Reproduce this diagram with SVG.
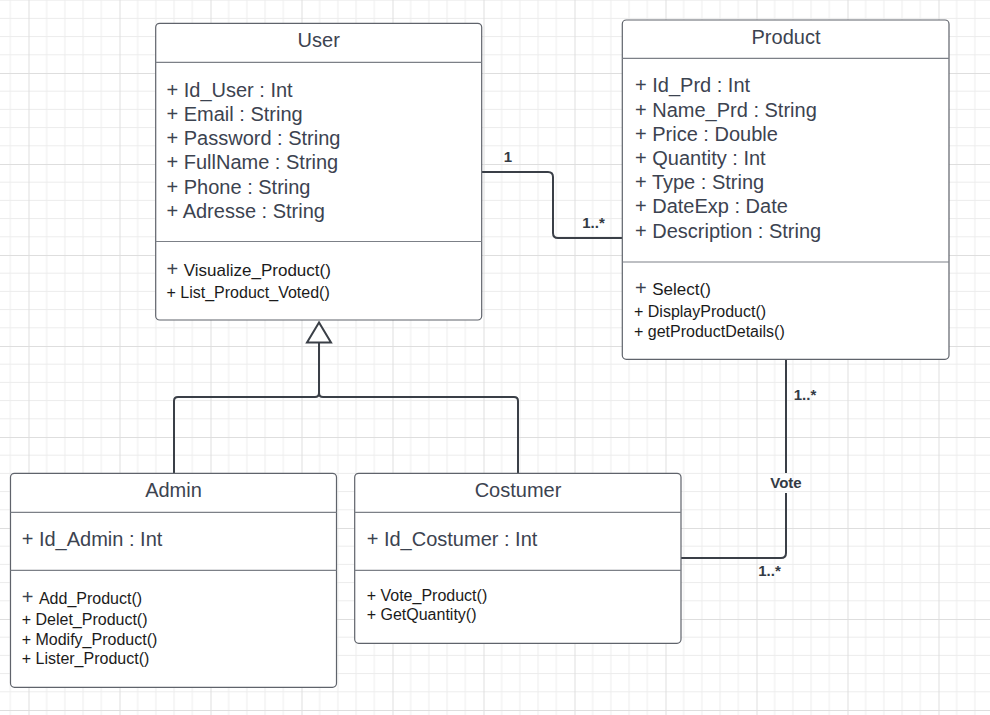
<svg xmlns="http://www.w3.org/2000/svg" width="990" height="715" viewBox="0 0 990 715">
<defs>
<pattern id="grid" x="28.5" y="73" width="91" height="91" patternUnits="userSpaceOnUse">
<path d="M18.2,0V91M36.4,0V91M54.6,0V91M72.8,0V91M0,18.2H91M0,36.4H91M0,54.6H91M0,72.8H91" stroke="#ececec" stroke-width="1" fill="none"/>
<path d="M0.5,0V91M0,0.5H91" stroke="#dedede" stroke-width="1" fill="none"/>
</pattern>
</defs>
<style>
.box{fill:#fff;stroke:#5f636b;stroke-width:1.2}
.div{stroke:#7c8087;stroke-width:1.2}
.title{font-family:"Liberation Sans",Arial,sans-serif;font-size:20px;fill:#3c4350;text-anchor:middle}
.attr{font-family:"Liberation Sans",Arial,sans-serif;font-size:20px;fill:#3c4350}
.m{font-family:"Liberation Sans",Arial,sans-serif;font-size:16px;fill:#1b1b1b}
.p{font-size:20px;fill:#3c4350}
.conn{fill:none;stroke:#3a3f47;stroke-width:2}
.lbl{font-family:"Liberation Sans",Arial,sans-serif;font-size:15px;font-weight:bold;fill:#333a44;text-anchor:middle}
</style>
<rect width="990" height="715" fill="#fff"/>
<rect width="990" height="715" fill="url(#grid)"/>

<g id="connectors">
<path class="conn" d="M482,172H548Q553,172 553,177V233Q553,238 558,238H622"/>
<path class="conn" d="M319,342V393Q319,397 315,397H178Q174,397 174,401V473"/>
<path class="conn" d="M319,342V393Q319,397 323,397H514Q518,397 518,401V473"/>
<polygon points="319,322.5 307,342.5 331,342.5" fill="#fff" stroke="#3a3f47" stroke-width="2"/>
<path class="conn" d="M786,359.5V473M786,493V553Q786,558 781,558H681"/>
<text class="lbl" x="508" y="162">1</text>
<text class="lbl" x="593.5" y="228">1..*</text>
<text class="lbl" x="805" y="400">1..*</text>
<text class="lbl" x="786" y="487.5">Vote</text>
<text class="lbl" x="769.5" y="575.5">1..*</text>
</g>

<g id="User">
<rect class="box" x="155.7" y="23.3" width="326" height="296.7" rx="4"/>
<line class="div" x1="155.7" y1="62.3" x2="481.7" y2="62.3"/>
<line class="div" x1="155.7" y1="241.5" x2="481.7" y2="241.5"/>
<text class="title" x="318.7" y="47">User</text>
<text class="attr" x="166.5" y="96.5">+ Id_User : Int</text>
<text class="attr" x="166.5" y="120.8">+ Email : String</text>
<text class="attr" x="166.5" y="145">+ Password : String</text>
<text class="attr" x="166.5" y="169.3">+ FullName : String</text>
<text class="attr" x="166.5" y="193.6">+ Phone : String</text>
<text class="attr" x="166.5" y="217.9">+ Adresse : String</text>
<text class="m" x="166.5" y="275.7"><tspan class="p">+ </tspan><tspan font-size="17">Visualize_Product()</tspan></text>
<text class="m" x="166.5" y="297.7">+ List_Product_Voted()</text>
</g>

<g id="Product">
<rect class="box" x="622.3" y="20" width="326.7" height="339.3" rx="4"/>
<line class="div" x1="622.3" y1="58.3" x2="949" y2="58.3"/>
<line class="div" x1="622.3" y1="262" x2="949" y2="262"/>
<text class="title" x="786" y="44.3">Product</text>
<text class="attr" x="635" y="92.3">+ Id_Prd : Int</text>
<text class="attr" x="635" y="116.5">+ Name_Prd : String</text>
<text class="attr" x="635" y="140.7">+ Price : Double</text>
<text class="attr" x="635" y="164.9">+ Quantity : Int</text>
<text class="attr" x="635" y="189.1">+ Type : String</text>
<text class="attr" x="635" y="213.3">+ DateExp : Date</text>
<text class="attr" x="635" y="237.5">+ Description : String</text>
<text class="m" x="635" y="295"><tspan class="p">+ </tspan><tspan font-size="17">Select()</tspan></text>
<text class="m" x="634" y="316.7">+ DisplayProduct()</text>
<text class="m" x="634" y="336.7">+ getProductDetails()</text>
</g>

<g id="Admin">
<rect class="box" x="10.5" y="473.3" width="326" height="214" rx="4"/>
<line class="div" x1="10.5" y1="512.3" x2="336.5" y2="512.3"/>
<line class="div" x1="10.5" y1="570.3" x2="336.5" y2="570.3"/>
<text class="title" x="173.5" y="497.3">Admin</text>
<text class="attr" x="21.7" y="546">+ Id_Admin : Int</text>
<text class="m" x="21.7" y="604"><tspan class="p">+ </tspan><tspan>Add_Product()</tspan></text>
<text class="m" x="21.7" y="625">+ Delet_Product()</text>
<text class="m" x="21.7" y="644.5">+ Modify_Product()</text>
<text class="m" x="21.7" y="664">+ Lister_Product()</text>
</g>

<g id="Costumer">
<rect class="box" x="354.7" y="473.3" width="326.3" height="170" rx="4"/>
<line class="div" x1="354.7" y1="512.3" x2="681" y2="512.3"/>
<line class="div" x1="354.7" y1="570.3" x2="681" y2="570.3"/>
<text class="title" x="518" y="497.3">Costumer</text>
<text class="attr" x="366.7" y="546">+ Id_Costumer : Int</text>
<text class="m" x="366.7" y="601">+ Vote_Product()</text>
<text class="m" x="366.7" y="620">+ GetQuantity()</text>
</g>
</svg>
